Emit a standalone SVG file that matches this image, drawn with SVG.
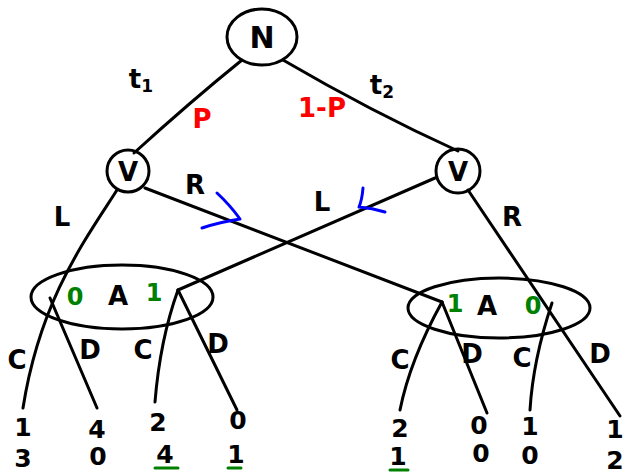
<svg xmlns="http://www.w3.org/2000/svg" width="626" height="475" viewBox="0 0 626 475">
  <style>
    .ink { fill: none; stroke: #000; stroke-width: 3; stroke-linecap: round; stroke-linejoin: round; }
    .blue { fill: none; stroke: #0000ff; stroke-width: 3; stroke-linecap: round; stroke-linejoin: round; }
    .grn { fill: none; stroke: #008000; stroke-width: 3; stroke-linecap: round; }
    text { font-family: "DejaVu Sans", "Liberation Sans", sans-serif; text-anchor: middle; font-weight: bold; }
    .lbl { font-size: 26px; fill: #000; }
    .big { font-size: 30px; fill: #000; }
    .pay { font-size: 25px; fill: #000; }
    .red { font-size: 26px; fill: #ff0000; }
    .g { font-size: 24px; fill: #008000; }
  </style>

  <rect width="626" height="475" fill="#fff"/>

  <!-- edges of the game tree -->
  <g id="connectors">
    <path class="ink" d="M242,60 Q190,102 134,153"/>
    <path class="ink" d="M283,60 Q372,112 458,151"/>
    <path class="ink" d="M117,190 C85,240 40,300 23,408"/>
    <path class="ink" d="M145,188 L442,302"/>
    <path class="ink" d="M435,178 L178,290"/>
    <path class="ink" d="M468,190 L620,416"/>
    <path class="ink" d="M50,298 L97,408"/>
    <path class="ink" d="M178,290 Q160,340 155,402"/>
    <path class="ink" d="M178,290 L237,410"/>
    <path class="ink" d="M442,302 Q410,360 400,410"/>
    <path class="ink" d="M442,302 L487,413"/>
    <path class="ink" d="M552,303 Q533,360 530,410"/>
    <!-- direction marks -->
    <path class="blue" d="M217,193 Q230,205 240,219 Q220,222 202,228"/>
    <path class="blue" d="M363,188 Q362,200 359,207 Q372,208 385,212"/>
    <!-- edge labels -->
    <text class="lbl" x="141" y="88">t<tspan font-size="17" dy="4">1</tspan></text>
    <text class="lbl" x="382" y="94">t<tspan font-size="17" dy="4">2</tspan></text>
    <text class="red" x="202" y="128">P</text>
    <text class="red" x="322" y="117">1-P</text>
    <text class="lbl" x="62" y="226">L</text>
    <text class="lbl" x="195" y="194">R</text>
    <text class="lbl" x="322" y="211">L</text>
    <text class="lbl" x="512" y="226">R</text>
    <text class="lbl" x="17" y="369">C</text>
    <text class="lbl" x="90" y="359">D</text>
    <text class="lbl" x="143" y="359">C</text>
    <text class="lbl" x="218" y="353">D</text>
    <text class="lbl" x="400" y="369">C</text>
    <text class="lbl" x="472" y="363">D</text>
    <text class="lbl" x="522" y="367">C</text>
    <text class="lbl" x="600" y="363">D</text>
  </g>

  <!-- nature -->
  <g id="node-N">
    <ellipse class="ink" cx="262" cy="37" rx="35" ry="28"/>
    <text class="big" x="262" y="48">N</text>
  </g>

  <!-- sender nodes -->
  <g id="node-V1">
    <circle class="ink" cx="128" cy="171" r="21"/>
    <text class="lbl" x="128" y="181">V</text>
  </g>
  <g id="node-V2">
    <circle class="ink" cx="458" cy="171" r="22"/>
    <text class="lbl" x="458" y="181">V</text>
  </g>

  <!-- receiver information sets -->
  <g id="infoset-A-left">
    <ellipse class="ink" cx="122" cy="297" rx="91" ry="32"/>
    <text class="g" x="75" y="305">0</text>
    <text class="lbl" x="118" y="305">A</text>
    <text class="g" x="154" y="301">1</text>
  </g>
  <g id="infoset-A-right">
    <ellipse class="ink" cx="499" cy="308" rx="91" ry="30"/>
    <text class="g" x="455" y="312">1</text>
    <text class="lbl" x="487" y="315">A</text>
    <text class="g" x="533" y="314">0</text>
  </g>

  <!-- payoffs -->
  <g id="payoff-1">
    <text class="pay" x="23" y="436">1</text>
    <text class="pay" x="23" y="467">3</text>
  </g>
  <g id="payoff-2">
    <text class="pay" x="97" y="438">4</text>
    <text class="pay" x="98" y="465">0</text>
  </g>
  <g id="payoff-3">
    <text class="pay" x="158" y="431">2</text>
    <text class="pay" x="165" y="463">4</text>
    <path class="grn" d="M155,468 L178,468"/>
  </g>
  <g id="payoff-4">
    <text class="pay" x="238" y="429">0</text>
    <text class="pay" x="236" y="463">1</text>
    <path class="grn" d="M228,468 L241,468"/>
  </g>
  <g id="payoff-5">
    <text class="pay" x="400" y="437">2</text>
    <text class="pay" x="398" y="465">1</text>
    <path class="grn" d="M390,470 L408,470"/>
  </g>
  <g id="payoff-6">
    <text class="pay" x="479" y="434">0</text>
    <text class="pay" x="481" y="462">0</text>
  </g>
  <g id="payoff-7">
    <text class="pay" x="530" y="435">1</text>
    <text class="pay" x="530" y="464">0</text>
  </g>
  <g id="payoff-8">
    <text class="pay" x="615" y="438">1</text>
    <text class="pay" x="615" y="469">2</text>
  </g>
</svg>
